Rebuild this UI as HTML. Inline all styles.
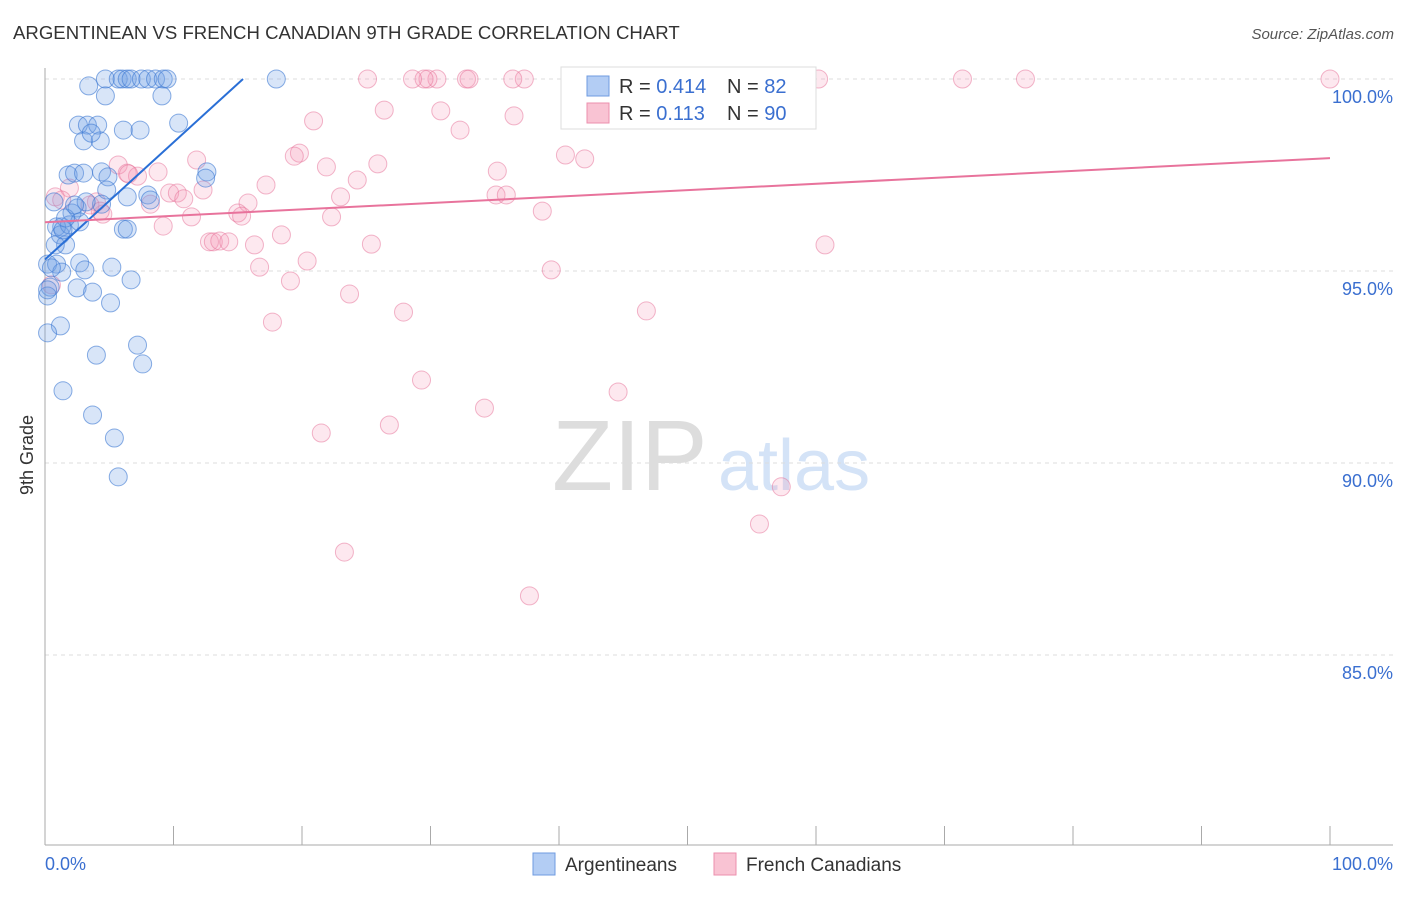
<!DOCTYPE html>
<html><head><meta charset="utf-8"><style>
body{margin:0;background:#fff;font-family:"Liberation Sans",sans-serif;}
svg text{font-family:"Liberation Sans",sans-serif;}
</style></head><body>
<svg id="chart" width="1406" height="892" viewBox="0 0 1406 892" xmlns="http://www.w3.org/2000/svg">
<text x="13" y="39" font-size="18.6" fill="#333">ARGENTINEAN VS FRENCH CANADIAN 9TH GRADE CORRELATION CHART</text>
<text x="1394" y="39" font-size="15" fill="#555" font-style="italic" text-anchor="end">Source: ZipAtlas.com</text>
<text x="552" y="490" font-size="100" font-family="Liberation Serif" fill="#ddd">ZIP</text>
<text x="718" y="490" font-size="72" fill="#d4e3f7">atlas</text>
<g id="grid"></g>
<g id="axes"></g>
<g id="marks"></g>
<g id="trends"></g>
<g>
<rect x="561" y="67" width="255" height="62" fill="#fff" stroke="#ddd"/>
<rect x="587" y="76" width="22" height="20" fill="#b3cdf4" stroke="#6f9be0"/>
<rect x="587" y="103" width="22" height="20" fill="#f9c3d3" stroke="#ec8fae"/>
<text x="619" y="93" font-size="20" fill="#333">R = <tspan fill="#3a6fd0">0.414</tspan></text>
<text x="727" y="93" font-size="20" fill="#333">N = <tspan fill="#3a6fd0"> 82</tspan></text>
<text x="619" y="120" font-size="20" fill="#333">R = <tspan fill="#3a6fd0"> 0.113</tspan></text>
<text x="727" y="120" font-size="20" fill="#333">N = <tspan fill="#3a6fd0">90</tspan></text>
</g>
<g>
<rect x="533" y="853" width="22" height="22" fill="#b3cdf4" stroke="#6f9be0"/>
<text x="565" y="871" font-size="19" fill="#333">Argentineans</text>
<rect x="714" y="853" width="22" height="22" fill="#f9c3d3" stroke="#ec8fae"/>
<text x="746" y="871" font-size="19" fill="#333">French Canadians</text>
</g>
<text transform="translate(33,455) rotate(-90)" font-size="18" fill="#333" text-anchor="middle">9th Grade</text>
</svg>
<script>
const blueX=[4.7,5.7,6.0,6.4,6.7,7.5,8.0,8.6,9.2,9.5,18.0,3.4,4.7,9.1,2.6,3.3,4.1,6.1,7.4,10.4,3.0,4.3,3.6,1.8,2.3,3.0,4.4,4.9,12.6,12.5,4.8,6.4,8.0,8.2,2.1,2.5,4.4,1.3,0.9,1.2,1.9,2.7,1.6,0.8,6.1,6.4,0.2,0.9,2.7,5.2,1.3,3.1,6.7,0.4,2.5,3.7,5.1,0.2,1.2,0.2,4.0,7.2,7.6,1.4,3.7,5.4,5.7,0.2,0.5,1.6,1.4,3.2,2.3,0.7];
const blueY=[100,100,100,100,100,100,100,100,100,100,100,99.82,99.56,99.56,98.8,98.8,98.8,98.67,98.67,98.85,98.39,98.39,98.59,97.5,97.55,97.55,97.58,97.45,97.58,97.42,97.11,96.93,96.98,96.85,96.51,96.64,96.74,96.15,96.15,95.94,96.2,96.28,95.68,95.68,96.09,96.09,95.18,95.18,95.21,95.1,94.97,95.03,94.77,94.58,94.56,94.45,94.17,94.35,93.57,93.39,92.81,93.07,92.58,91.88,91.25,90.65,89.64,94.51,95.08,96.38,96.07,96.8,96.72,96.8];
const pinkX=[100,76.3,71.4,60.2,47.8,37.3,36.4,32.8,33.0,30.5,29.8,29.5,28.6,25.1,26.4,30.8,36.5,20.9,32.3,40.5,42.0,19.8,19.4,11.8,5.7,6.4,8.8,7.2,35.2,25.9,21.9,24.3,17.2,9.7,10.3,10.8,12.3,8.2,6.5,4.0,4.5,35.1,35.9,23.0,15.8,15.0,15.3,22.3,11.4,9.2,38.7,18.4,12.8,13.1,13.6,14.3,16.3,25.4,60.7,20.4,16.7,39.4,19.1,23.7,27.9,46.8,17.7,29.3,44.6,34.2,26.8,21.5,57.3,55.6,23.3,37.7,0.8,0.5,1.9,3.5,4.3,1.3];
const pinkY=[100,100,100,100,100,100,100,100,100,100,100,100,100,100,99.19,99.17,99.04,98.91,98.67,98.02,97.92,98.07,97.99,97.89,97.76,97.55,97.58,97.47,97.6,97.79,97.71,97.37,97.24,97.03,97.03,96.88,97.11,96.74,97.53,96.8,96.48,96.98,96.98,96.93,96.77,96.51,96.43,96.41,96.41,96.17,96.56,95.94,95.76,95.76,95.78,95.76,95.68,95.7,95.68,95.26,95.1,95.03,94.74,94.4,93.93,93.96,93.67,92.16,91.85,91.43,90.99,90.78,89.38,88.41,87.68,86.54,96.93,94.64,97.16,96.72,96.56,96.85];
const yTicks=[100,95,90,85];
const yTickLabels=["100.0%","95.0%","90.0%","85.0%"];
const blueTrend=[95.3,0.305]; // intercept, slope
const pinkTrend=[96.27,0.0167];
const NS="http://www.w3.org/2000/svg";
const xs=v=>45+v*12.85;
const ys=v=>79+(100-v)*38.4;
function mk(tag,attrs,parent){const e=document.createElementNS(NS,tag);for(const k in attrs)e.setAttribute(k,attrs[k]);parent.appendChild(e);return e;}
const grid=document.getElementById('grid'),axes=document.getElementById('axes'),marks=document.getElementById('marks'),trends=document.getElementById('trends');
yTicks.forEach((t,i)=>{
  const l=mk('line',{x1:45,x2:1393,y1:ys(t),y2:ys(t),stroke:'#ddd','stroke-dasharray':'4,4'},grid);
  
  
  const tx=mk('text',{x:1393,y:ys(t)+24,'font-size':18,fill:'#3a6fd0','text-anchor':'end'},axes);
  tx.textContent=yTickLabels[i];
  
  
});
mk('line',{x1:45,x2:45,y1:68,y2:845,stroke:'#aaa'},axes);
mk('line',{x1:45,x2:1393,y1:845,y2:845,stroke:'#aaa'},axes);
for(let i=1;i<=10;i++){const x=xs(i*10);mk('line',{x1:x,x2:x,y1:826,y2:845,stroke:'#aaa'},axes);}
const xl0=mk('text',{x:45,y:870,'font-size':18,fill:'#3a6fd0'},axes);xl0.textContent='0.0%';


const xl1=mk('text',{x:1393,y:870,'font-size':18,fill:'#3a6fd0','text-anchor':'end'},axes);xl1.textContent='100.0%';


pinkX.forEach((x,i)=>{const c=mk('circle',{cx:xs(x),cy:ys(pinkY[i]),r:9,fill:'rgba(244,150,180,0.22)',stroke:'rgba(230,110,150,0.5)','stroke-width':1},marks);

});
blueX.forEach((x,i)=>{const c=mk('circle',{cx:xs(x),cy:ys(blueY[i]),r:9,fill:'rgba(110,160,230,0.27)',stroke:'rgba(60,120,210,0.6)','stroke-width':1},marks);

});
const bx2=(100-blueTrend[0])/blueTrend[1];
const bl=mk('line',{x1:xs(0),y1:ys(blueTrend[0]),x2:xs(bx2),y2:ys(100),stroke:'#2a6fd6','stroke-width':2},trends);


const pl=mk('line',{x1:xs(0),y1:ys(pinkTrend[0]),x2:xs(100),y2:ys(pinkTrend[0]+100*pinkTrend[1]),stroke:'#e8739c','stroke-width':2},trends);


</script>
</body></html>
